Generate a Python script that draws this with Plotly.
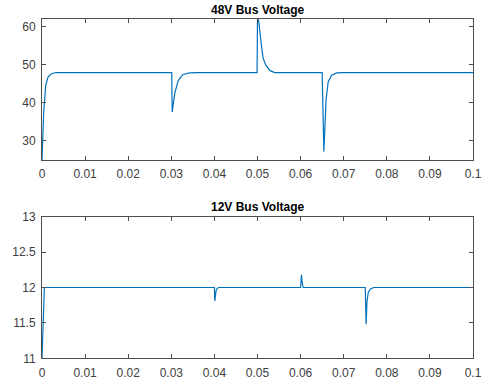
import plotly.graph_objects as go

# 48V bus voltage
t48 = [0.0, 0.0002, 0.0004, 0.00086, 0.0014, 0.0022, 0.0033, 0.005,
       0.0301, 0.0302, 0.0308, 0.0316, 0.0327, 0.0343, 0.036,
       0.0499, 0.0500, 0.0502, 0.0504, 0.0509, 0.0513, 0.0519, 0.0529, 0.054,
       0.0650, 0.0654, 0.0659, 0.0664, 0.0672, 0.0684, 0.070, 0.1]
v48 = [25.0, 32.0, 37.6, 44.6, 46.8, 47.7, 48.0, 48.0,
       48.0, 37.6, 42.5, 45.9, 47.5, 47.9, 48.0,
       48.0, 62.5, 62.3, 59.7, 55.3, 51.8, 50.0, 48.5, 48.0,
       48.0, 27.2, 40.7, 45.5, 47.3, 47.9, 48.0, 48.0]

# 12V bus voltage
t12 = [0.0, 0.0003, 0.00055, 0.001,
       0.0400, 0.0401, 0.0402, 0.0404, 0.0407, 0.041,
       0.0600, 0.0601, 0.0602, 0.0604, 0.0606,
       0.0750, 0.0752, 0.0754, 0.0757, 0.0762, 0.077, 0.1]
v12 = [11.0, 11.5, 12.0, 12.0,
       12.0, 11.81, 11.9, 11.96, 11.99, 12.0,
       12.0, 12.12, 12.18, 12.05, 12.0,
       12.0, 11.48, 11.8, 11.93, 11.98, 12.0, 12.0]

x_ticks = [0, 0.01, 0.02, 0.03, 0.04, 0.05, 0.06, 0.07, 0.08, 0.09, 0.1]
x_labels = ["0", "0.01", "0.02", "0.03", "0.04", "0.05", "0.06", "0.07", "0.08", "0.09", "0.1"]
y48_ticks = [30, 40, 50, 60]
y12_ticks = [11, 11.5, 12, 12.5, 13]
y12_labels = ["11", "11.5", "12", "12.5", "13"]

titles = ["48V Bus Voltage", "12V Bus Voltage"]

W, H = 499, 383
LINE = "#0072BD"
AX = "#4d4d4d"
FONT = dict(family="Liberation Sans, Arial, sans-serif", size=12, color="#404040")

fig = go.Figure()
fig.add_trace(go.Scatter(x=t48, y=v48, mode="lines", line=dict(color=LINE, width=1.2),
                         xaxis="x", yaxis="y", showlegend=False))
fig.add_trace(go.Scatter(x=t12, y=v12, mode="lines", line=dict(color=LINE, width=1.2),
                         xaxis="x2", yaxis="y2", showlegend=False))

def ydom(top_px, bot_px):
    return [1 - bot_px / H, 1 - top_px / H]

axis_common = dict(showline=True, linecolor=AX, linewidth=1, mirror="allticks",
                   ticks="inside", ticklen=4, tickcolor=AX, showgrid=False,
                   zeroline=False, tickfont=FONT, automargin=False, ticklabelstandoff=3)

fig.update_layout(
    width=W, height=H,
    margin=dict(l=42, r=26, t=0, b=0),
    paper_bgcolor="white", plot_bgcolor="white",
    xaxis=dict(domain=[0, 1], range=[0, 0.1], tickvals=x_ticks, ticktext=x_labels,
               anchor="y", **axis_common),
    yaxis=dict(domain=ydom(19.3, 160), range=[25, 62], tickvals=y48_ticks,
               anchor="x", **axis_common),
    xaxis2=dict(domain=[0, 1], range=[0, 0.1], tickvals=x_ticks, ticktext=x_labels,
                anchor="y2", **axis_common),
    yaxis2=dict(domain=ydom(216.7, 358.3), range=[11, 13], tickvals=y12_ticks,
                ticktext=y12_labels, anchor="x2", **axis_common),
    annotations=[
        dict(text="<b>" + titles[0] + "</b>", x=0.5, xref="paper", y=1 - 10 / H, yref="paper",
             showarrow=False, font=dict(family="Liberation Sans, Arial, sans-serif", size=12, color="black"),
             yanchor="middle"),
        dict(text="<b>" + titles[1] + "</b>", x=0.5, xref="paper", y=1 - 207 / H, yref="paper",
             showarrow=False, font=dict(family="Liberation Sans, Arial, sans-serif", size=12, color="black"),
             yanchor="middle"),
    ],
)

fig.write_html("out.html")
